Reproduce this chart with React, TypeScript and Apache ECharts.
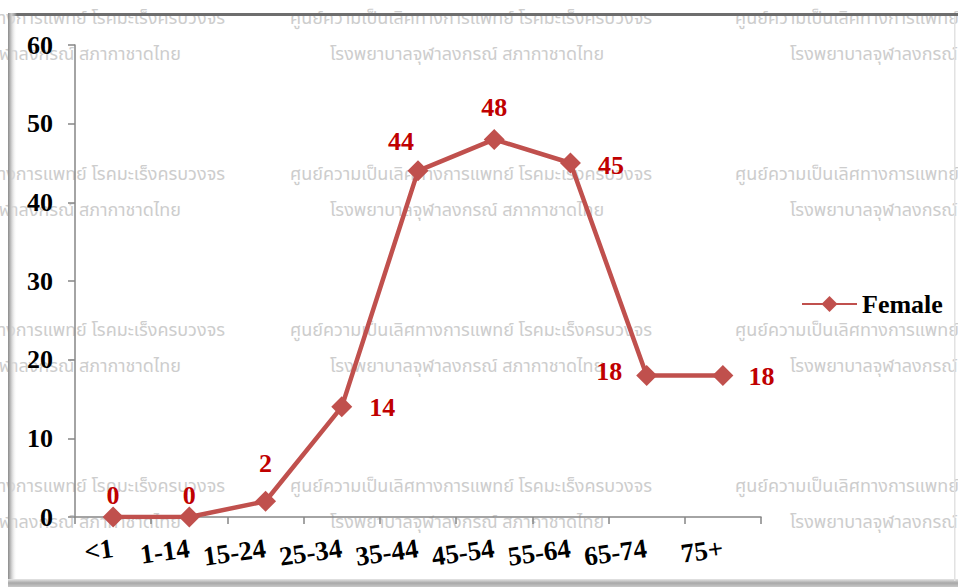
import React, { useEffect, useRef } from "react";
import * as echarts from "echarts";

const categories = ["<1", "1-14", "15-24", "25-34", "35-44", "45-54", "55-64", "65-74", "75+"];
const femaleValues = [0, 0, 2, 14, 44, 48, 45, 18, 18];
const seriesName = "Female";
const yTicks = { min: 0, max: 60, interval: 10 };

const watermarkLine1 = "ศูนย์ความเป็นเลิศทางการแพทย์ โรคมะเร็งครบวงจร";
const watermarkLine2 = "โรงพยาบาลจุฬาลงกรณ์ สภากาชาดไทย";

// label placement per point (style only)
const labelPlacement: Array<{ position: string; distance: number; offset: [number, number] }> = [
  { position: "top", distance: 0, offset: [0, 2] },
  { position: "top", distance: 0, offset: [0, 2] },
  { position: "top", distance: 14, offset: [0, 0] },
  { position: "right", distance: 17, offset: [0, 1] },
  { position: "top", distance: 6, offset: [-17, 0] },
  { position: "top", distance: 8, offset: [0, 0] },
  { position: "right", distance: 17, offset: [0, 2] },
  { position: "left", distance: 14, offset: [0, -4] },
  { position: "right", distance: 15, offset: [0, 1] },
];

const SERIF = "'Liberation Serif', 'Times New Roman', serif";
const THAI = "'Noto Sans Thai', 'Tahoma', 'Noto Sans', 'DejaVu Sans', sans-serif";
const LINE_COLOR = "#C0504D";
const LABEL_COLOR = "#C00000";

function buildWatermarks() {
  const els: any[] = [];
  const rowY = [18, 174, 330, 486];
  const wmStyle = { font: `18px ${THAI}`, fill: "#cdcdcd" };
  rowY.forEach((y) => {
    els.push({ type: "text", silent: true, x: 225, y, style: { ...wmStyle, text: watermarkLine1, align: "right", verticalAlign: "middle" } });
    els.push({ type: "text", silent: true, x: 181, y: y + 36, style: { ...wmStyle, text: watermarkLine2, align: "right", verticalAlign: "middle" } });
    els.push({ type: "text", silent: true, x: 290, y, style: { ...wmStyle, text: watermarkLine1, align: "left", verticalAlign: "middle" } });
    els.push({ type: "text", silent: true, x: 330, y: y + 36, style: { ...wmStyle, text: watermarkLine2, align: "left", verticalAlign: "middle" } });
    els.push({ type: "text", silent: true, x: 735, y, style: { ...wmStyle, text: watermarkLine1, align: "left", verticalAlign: "middle" } });
    els.push({ type: "text", silent: true, x: 790, y: y + 36, style: { ...wmStyle, text: watermarkLine2, align: "left", verticalAlign: "middle" } });
  });
  return els;
}

function buildFrame() {
  return [
    { type: "rect", silent: true, shape: { x: 9, y: 13, width: 949, height: 3 }, style: { fill: "#6e6e6e" } },
    {
      type: "rect", silent: true, shape: { x: 8, y: 13, width: 9, height: 572 },
      style: {
        fill: new echarts.graphic.LinearGradient(0, 0, 1, 0, [
          { offset: 0, color: "#8a8a8a" },
          { offset: 0.35, color: "#c8c8c8" },
          { offset: 1, color: "rgba(255,255,255,0)" },
        ]),
      },
    },
    {
      type: "rect", silent: true, shape: { x: 8, y: 579, width: 950, height: 8 },
      style: {
        fill: new echarts.graphic.LinearGradient(0, 0, 0, 1, [
          { offset: 0, color: "#e6e6e6" },
          { offset: 0.5, color: "#a8a8a8" },
          { offset: 1, color: "#c8c8c8" },
        ]),
      },
    },
    { type: "rect", silent: true, shape: { x: 954, y: 16, width: 1.5, height: 565 }, style: { fill: "#e2e2e2" } },
  ];
}

export default function App() {
  const ref = useRef<HTMLDivElement>(null);

  useEffect(() => {
    document.body.style.margin = "0";
    if (!ref.current) return;
    const chart = echarts.init(ref.current, undefined, { renderer: "svg" });

    const data = femaleValues.map((v, i) => ({
      value: v,
      label: {
        position: labelPlacement[i].position,
        distance: labelPlacement[i].distance,
        offset: labelPlacement[i].offset,
      },
    }));

    chart.setOption({
      animation: false,
      backgroundColor: "#ffffff",
      graphic: [
        { type: "group", z: -10, silent: true, children: [...buildWatermarks(), ...buildFrame()] },
      ],
      grid: { left: 75, right: 197, top: 45, bottom: 70 },
      legend: {
        data: [seriesName],
        left: 796,
        top: 286,
        itemWidth: 55,
        itemHeight: 20,
        itemGap: 6,
        textStyle: { fontFamily: SERIF, fontWeight: "bold", fontSize: 26, color: "#000" },
      },
      xAxis: {
        type: "category",
        data: categories,
        boundaryGap: true,
        axisLine: { lineStyle: { color: "#868686", width: 1.5 } },
        axisTick: { show: true, length: 7, alignWithLabel: false, lineStyle: { color: "#868686", width: 1.5 } },
        axisLabel: {
          interval: 0,
          rotate: 8,
          margin: 31,
          fontFamily: SERIF,
          fontWeight: "bold",
          fontSize: 27,
          color: "#000",
        },
        splitLine: { show: false },
      },
      yAxis: {
        type: "value",
        min: yTicks.min,
        max: yTicks.max,
        interval: yTicks.interval,
        axisLine: { show: true, lineStyle: { color: "#868686", width: 1.5 } },
        axisTick: { show: true, length: 7, lineStyle: { color: "#868686", width: 1.5 } },
        axisLabel: { margin: 22, fontFamily: SERIF, fontWeight: "bold", fontSize: 26, color: "#000" },
        splitLine: { show: false },
      },
      series: [
        {
          name: seriesName,
          type: "line",
          data,
          symbol: "diamond",
          symbolSize: 21,
          lineStyle: { color: LINE_COLOR, width: 4.5 },
          itemStyle: { color: LINE_COLOR },
          label: {
            show: true,
            color: LABEL_COLOR,
            fontFamily: SERIF,
            fontWeight: "bold",
            fontSize: 26,
          },
          z: 5,
        },
      ],
    });

    return () => chart.dispose();
  }, []);

  return <div ref={ref} style={{ width: 958, height: 587 }} />;
}
